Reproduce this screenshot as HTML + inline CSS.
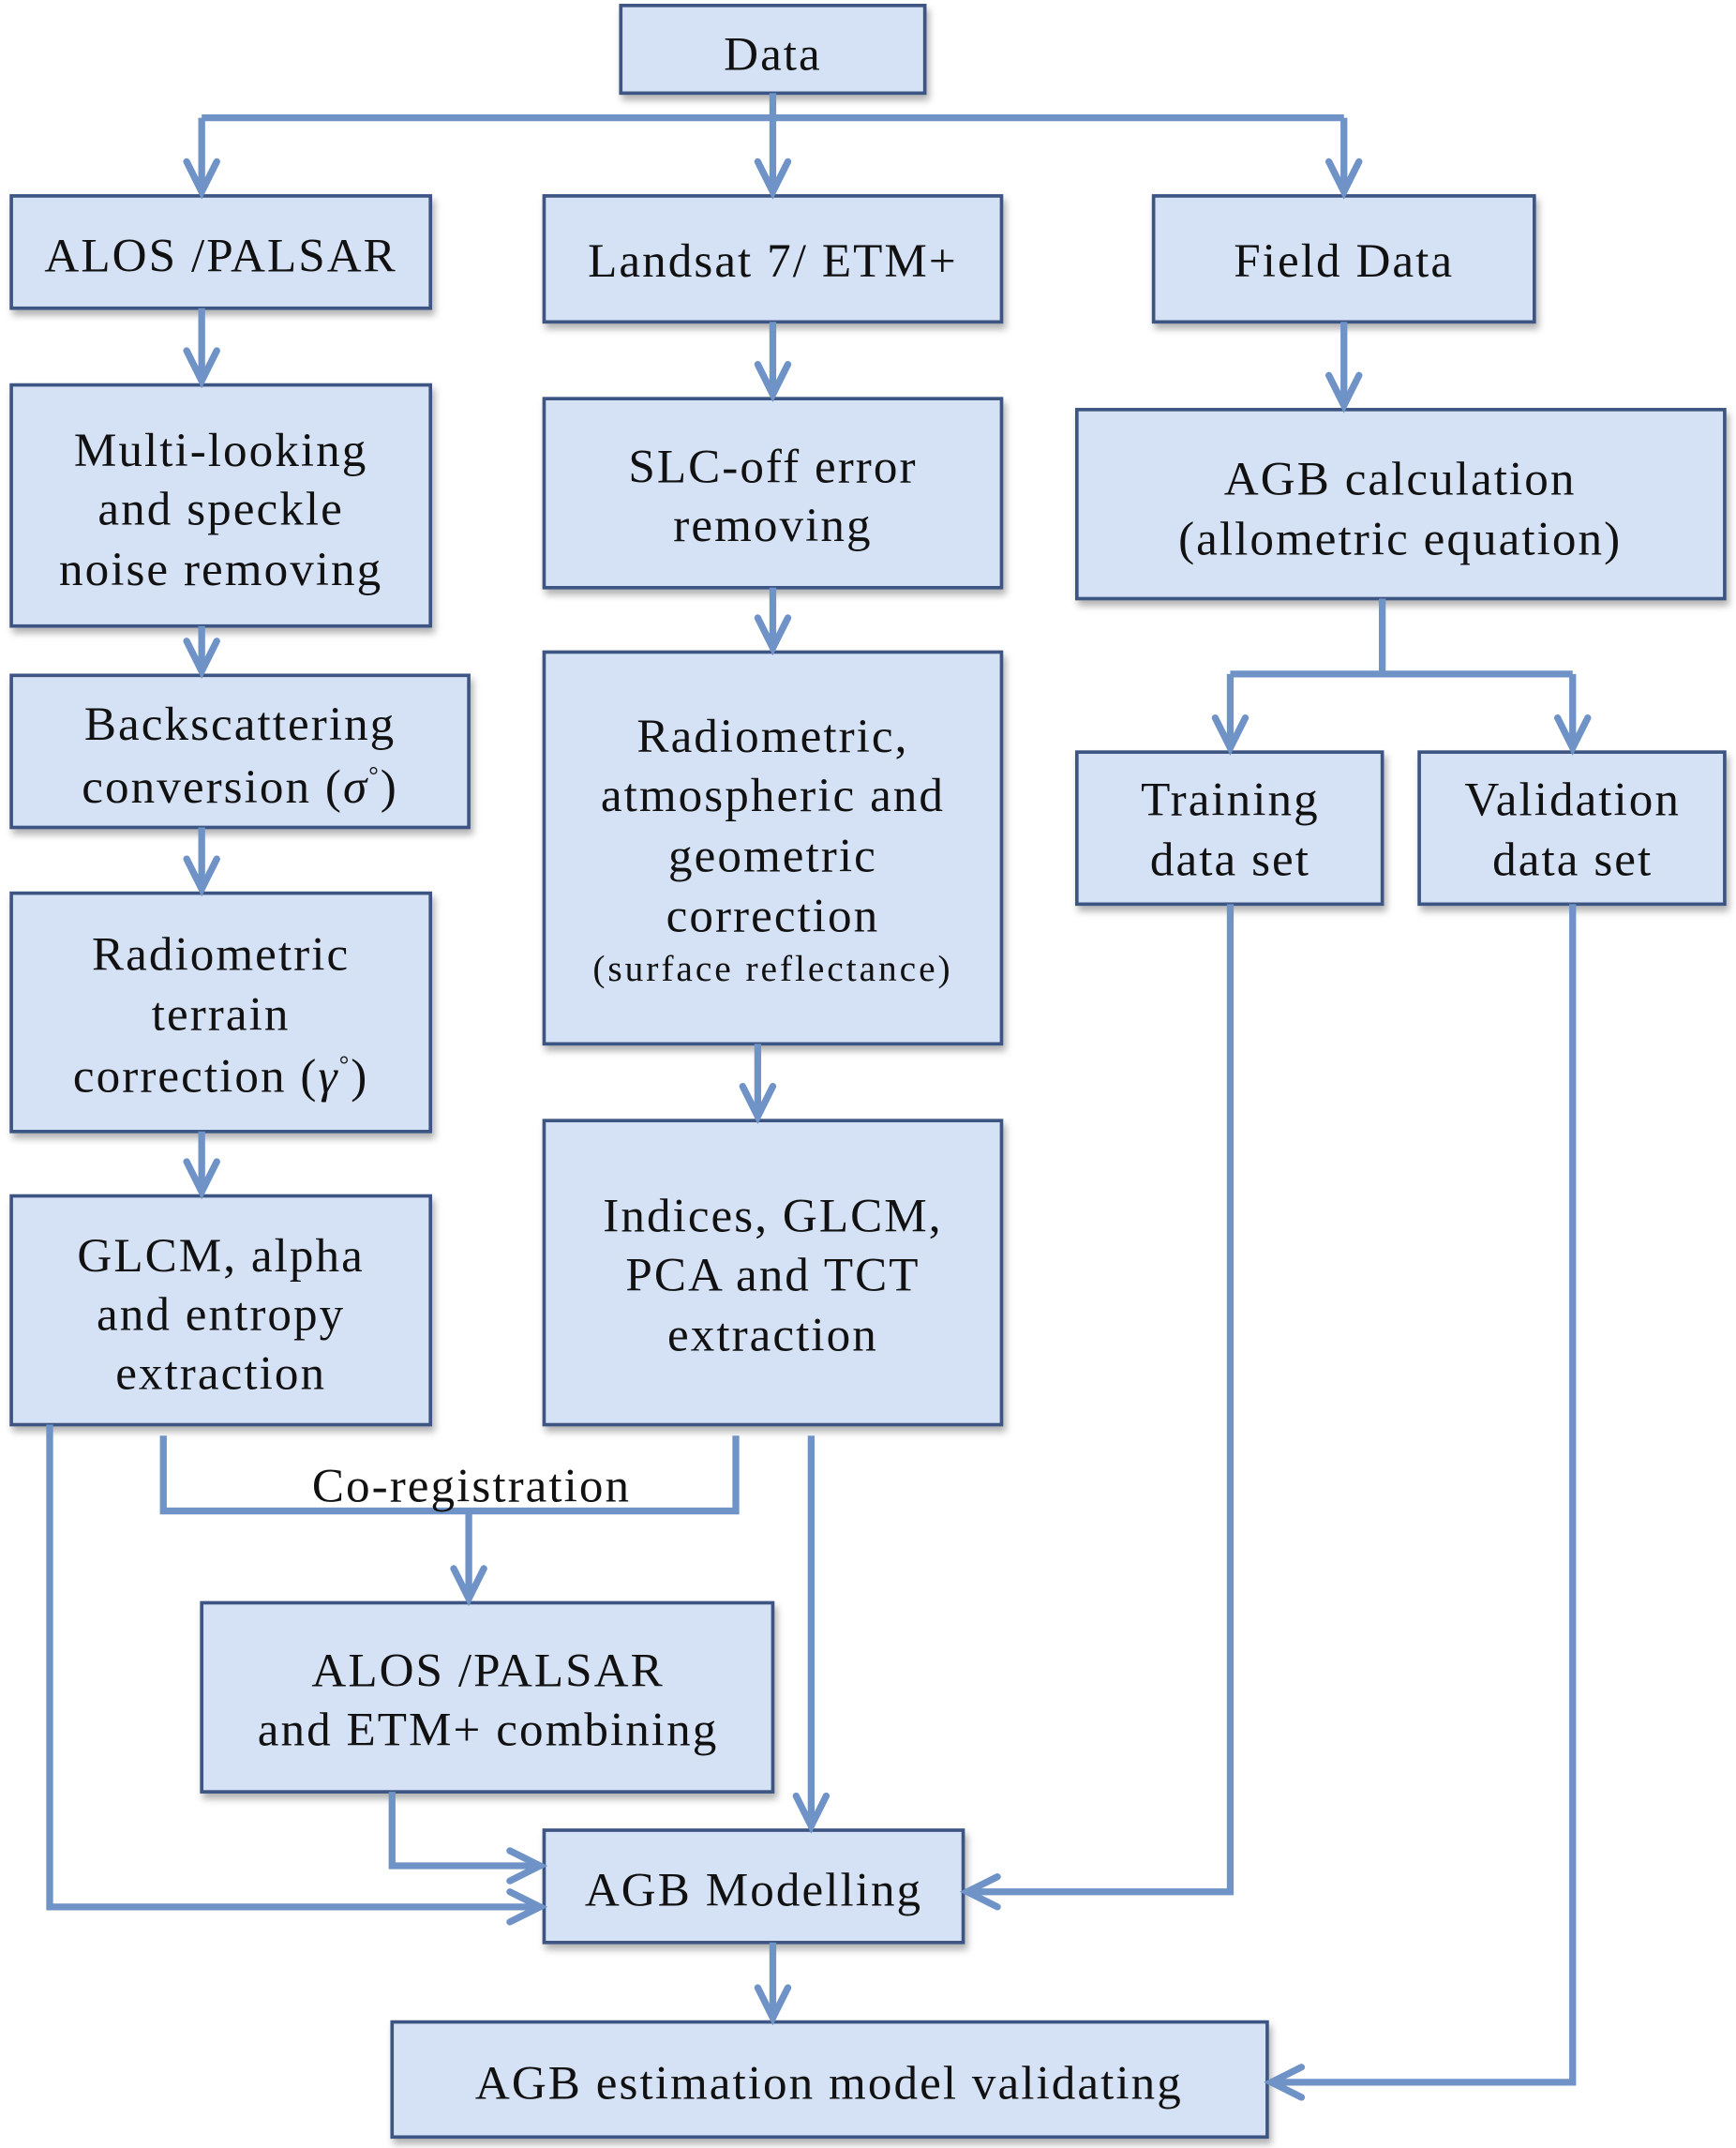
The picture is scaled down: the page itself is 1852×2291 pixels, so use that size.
<!DOCTYPE html>
<html><head><meta charset="utf-8"><style>html,body{margin:0;padding:0;background:#fff}svg{display:block}</style></head><body>
<svg width="1852" height="2291" viewBox="0 0 1267 1568" xmlns="http://www.w3.org/2000/svg">
<defs><filter id="sh" x="-10%" y="-10%" width="130%" height="140%"><feDropShadow dx="2" dy="4" stdDeviation="2.5" flood-color="#000" flood-opacity="0.3"/></filter></defs>
<g fill="#d5e1f4" stroke="#3e5482" stroke-width="2.5" filter="url(#sh)">
<rect x="453" y="4" width="222" height="64"/>
<rect x="8" y="143" width="306" height="82"/>
<rect x="397" y="143" width="334" height="92"/>
<rect x="842" y="143" width="278" height="92"/>
<rect x="8" y="281" width="306" height="176"/>
<rect x="397" y="291" width="334" height="138"/>
<rect x="786" y="299" width="473" height="138"/>
<rect x="8" y="493" width="334" height="111"/>
<rect x="397" y="476" width="334" height="286"/>
<rect x="786" y="549" width="223" height="111"/>
<rect x="1036" y="549" width="223" height="111"/>
<rect x="8" y="652" width="306" height="174"/>
<rect x="8" y="873" width="306" height="167"/>
<rect x="397" y="818" width="334" height="222"/>
<rect x="147" y="1170" width="417" height="138"/>
<rect x="397" y="1336" width="306" height="82"/>
<rect x="286" y="1476" width="639" height="84"/>
</g>
<g fill="none" stroke="#6f93c7" stroke-width="5" stroke-linejoin="miter">
<path d="M564 68V140M147 86H981M147 86V140M981 86V140"/>
<path d="M147 225V278M147 457V490M147 604V649M147 826V870"/>
<path d="M564 235V288M564 429V473M553 762V815M981 235V296"/>
<path d="M1009 437V492M898 492H1148M898 492V546M1148 492V546"/>
<path d="M119 1048V1103H537V1048M342 1103V1167"/>
<path d="M592 1048V1333M286 1308V1362H394M36 1040V1392H394"/>
<path d="M898 660V1381H706M564 1418V1473M1148 660V1520H928"/>
</g>
<g fill="none" stroke="#6f93c7" stroke-width="5" stroke-linecap="round">
<path d="M136 118L147 140L158 118M553 118L564 140L575 118M970 118L981 140L992 118"/>
<path d="M136 256L147 278L158 256M136 468L147 490L158 468M136 627L147 649L158 627M136 848L147 870L158 848"/>
<path d="M553 266L564 288L575 266M553 451L564 473L575 451M542 793L553 815L564 793M970 274L981 296L992 274"/>
<path d="M887 524L898 546L909 524M1137 524L1148 546L1159 524"/>
<path d="M331 1145L342 1167L353 1145M581 1311L592 1333L603 1311"/>
<path d="M372 1351L394 1362L372 1373M372 1381L394 1392L372 1403"/>
<path d="M728 1370L706 1381L728 1392M553 1451L564 1473L575 1451M950 1509L928 1520L950 1531"/>
</g>
<g font-family="Liberation Serif, serif" font-size="35" letter-spacing="1.4" fill="#111" text-anchor="middle">
<text x="564" y="51">Data</text>
<text x="161" y="198">ALOS /PALSAR</text>
<text x="564" y="202">Landsat 7/ ETM+</text>
<text x="981" y="202">Field Data</text>
<text x="161" y="340">Multi-looking</text>
<text x="161" y="383">and speckle</text>
<text x="161" y="427">noise removing</text>
<text x="564" y="352">SLC-off error</text>
<text x="564" y="395">removing</text>
<text x="1022" y="361">AGB calculation</text>
<text x="1022" y="405">(allometric equation)</text>
<text x="175" y="540">Backscattering</text>
<text x="175" y="586">conversion (<tspan font-style="italic">σ</tspan><tspan font-size="18" dy="-14">°</tspan><tspan dy="14">)</tspan></text>
<text x="564" y="549">Radiometric,</text>
<text x="564" y="592">atmospheric and</text>
<text x="564" y="636">geometric</text>
<text x="564" y="680">correction</text>
<text x="564" y="716" font-size="27" letter-spacing="2">(surface reflectance)</text>
<text x="898" y="595">Training</text>
<text x="898" y="639">data set</text>
<text x="1148" y="595">Validation</text>
<text x="1148" y="639">data set</text>
<text x="161" y="708">Radiometric</text>
<text x="161" y="752">terrain</text>
<text x="161" y="797">correction (<tspan font-style="italic">γ</tspan><tspan font-size="18" dy="-14">°</tspan><tspan dy="14">)</tspan></text>
<text x="161" y="928">GLCM, alpha</text>
<text x="161" y="971">and entropy</text>
<text x="161" y="1014">extraction</text>
<text x="564" y="899">Indices, GLCM,</text>
<text x="564" y="942">PCA and TCT</text>
<text x="564" y="986">extraction</text>
<text x="344" y="1096">Co-registration</text>
<text x="356" y="1231">ALOS /PALSAR</text>
<text x="356" y="1274">and ETM+ combining</text>
<text x="550" y="1391">AGB Modelling</text>
<text x="605" y="1532">AGB estimation model validating</text>
</g>
</svg>
</body></html>
